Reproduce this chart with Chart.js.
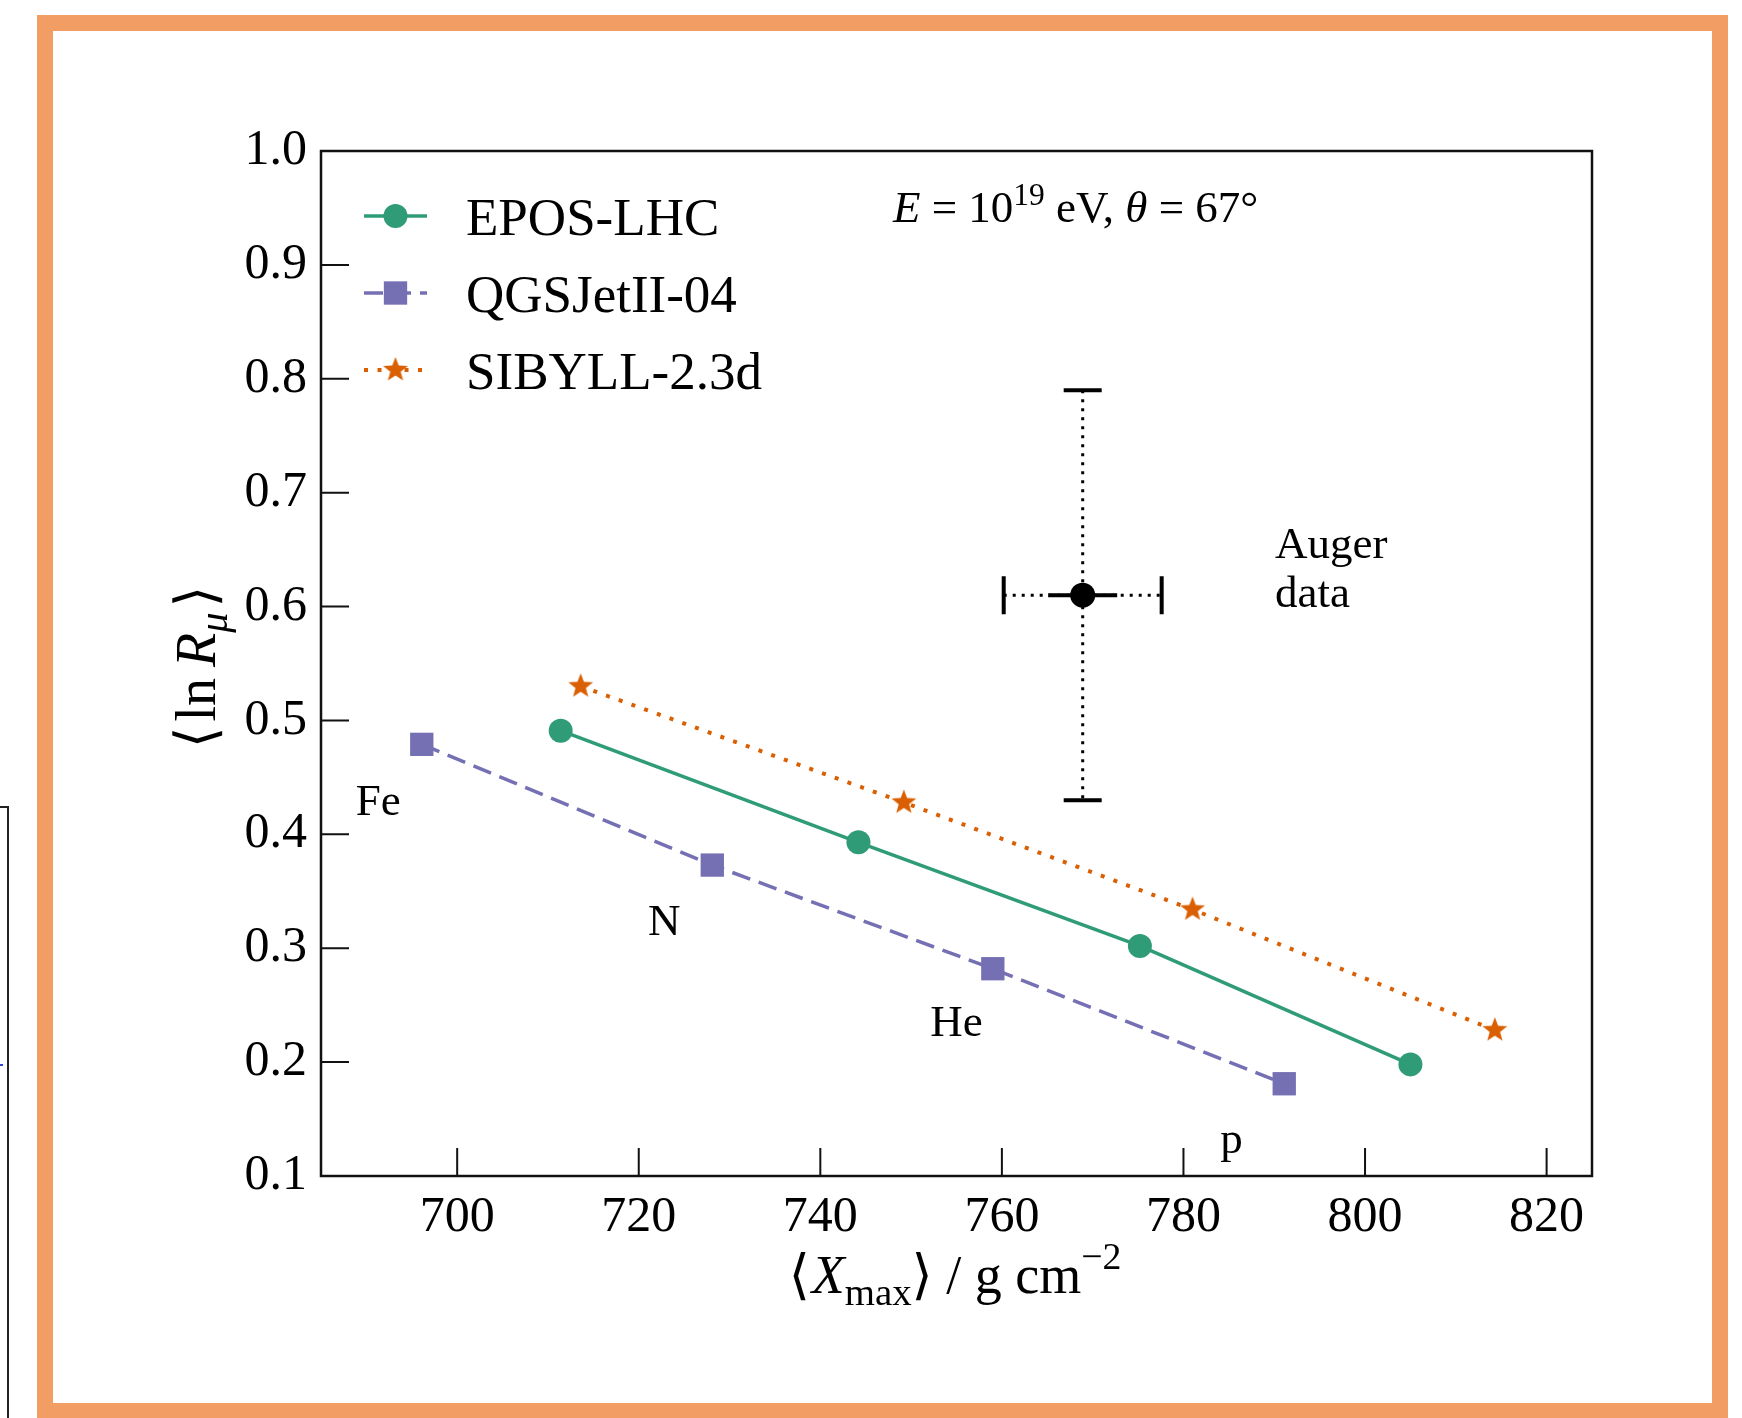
<!DOCTYPE html>
<html>
<head>
<meta charset="utf-8">
<script src="https://cdn.jsdelivr.net/npm/chart.js@4.4.1/dist/chart.umd.min.js"></script>
<style>
  html, body { margin: 0; padding: 0; background: #fff; }
  body { width: 1742px; height: 1418px; position: relative; overflow: hidden; }
  #frame { position: absolute; left: 37px; top: 15px; width: 1691px; height: 1404px; box-sizing: border-box; border: 16px solid #f29d64; }
  #edge { position: absolute; left: -10px; top: 806px; width: 19px; height: 700px; box-sizing: border-box; border: 2.5px solid #222; }
  #edge-mark { position: absolute; left: 0; top: 1064px; width: 3px; height: 2px; background: #3344dd; }
  #plot { position: absolute; left: 0; top: 0; }
</style>
</head>
<body>
<div id="edge"></div>
<div id="edge-mark"></div>
<div id="frame"></div>
<canvas id="plot" width="1742" height="1418"></canvas>
<script>
const FONT = '"Liberation Serif", "DejaVu Serif", serif';
const GREEN = '#2f9c77';
const PURPLE = '#7570b3';
const ORANGE = '#d95f02';

// <Xmax> [g/cm^2] and <ln R_mu> per model, primaries Fe, N, He, p
const xmaxEpos = [711.4, 744.2, 775.2, 805.0];
const lnRmuEpos = [0.491, 0.393, 0.302, 0.198];
const xmaxQgsjet = [696.1, 728.1, 759.0, 791.1];
const lnRmuQgsjet = [0.479, 0.373, 0.282, 0.181];
const xmaxSibyll = [713.6, 749.2, 781.0, 814.3];
const lnRmuSibyll = [0.530, 0.428, 0.334, 0.228];

// Auger point: stat (solid) and sys (dotted) uncertainties
const augerXmax = 768.9;
const augerLnRmu = 0.610;
const augerXmaxStat = 3.8;
const augerXmaxSys = 8.7;
const augerLnRmuSys = 0.18;

// primary labels, placed in data coordinates (x centre, baseline)
const primaries = ['Fe', 'N', 'He', 'p'];
const primaryX = [691.3, 722.8, 755.0, 785.3];
const primaryY = [0.417, 0.312, 0.223, 0.120];

const xTicks = [700, 720, 740, 760, 780, 800, 820];
const yTicks = [0.1, 0.2, 0.3, 0.4, 0.5, 0.6, 0.7, 0.8, 0.9, 1.0];

const toPoints = (xs, ys) => xs.map((x, i) => ({ x, y: ys[i] }));

function starImage(color, r) {
  const c = document.createElement('canvas');
  const s = Math.ceil(r * 2 + 2);
  c.width = c.height = s;
  const g = c.getContext('2d');
  g.fillStyle = color;
  g.beginPath();
  for (let i = 0; i < 10; i++) {
    const rad = i % 2 ? r * 0.42 : r;
    const a = -Math.PI / 2 + i * Math.PI / 5;
    g.lineTo(s / 2 + rad * Math.cos(a), s / 2 + rad * Math.sin(a));
  }
  g.closePath();
  g.fill();
  return c;
}

const star = starImage(ORANGE, 13);

// draws a run of text pieces: {t, it (italic), sc (size factor), dy (em shift)}
function richText(ctx, parts, x, y, size, align) {
  const fontOf = p => (p.it ? 'italic ' : '') + (size * (p.sc || 1)) + 'px ' + FONT;
  const widths = parts.map(p => { ctx.font = fontOf(p); return ctx.measureText(p.t).width + (p.gap || 0); });
  const total = widths.reduce((a, b) => a + b, 0);
  let cx = align === 'center' ? x - total / 2 : x;
  ctx.textAlign = 'left';
  ctx.textBaseline = 'alphabetic';
  parts.forEach((p, i) => {
    ctx.font = fontOf(p);
    ctx.fillText(p.t, cx, y + (p.dy || 0) * size);
    cx += widths[i];
  });
  return total;
}

const axesFrame = {
  id: 'axesFrame',
  afterDraw(chart) {
    const { ctx, chartArea: a, scales } = chart;
    ctx.save();
    ctx.strokeStyle = '#111';
    ctx.lineWidth = 2;
    ctx.beginPath();
    scales.x.ticks.forEach(t => {
      const px = scales.x.getPixelForValue(t.value);
      ctx.moveTo(px, a.bottom);
      ctx.lineTo(px, a.bottom - 28);
    });
    scales.y.ticks.forEach(t => {
      const py = scales.y.getPixelForValue(t.value);
      ctx.moveTo(a.left, py);
      ctx.lineTo(a.left + 28, py);
    });
    ctx.stroke();
    ctx.lineWidth = 2.5;
    ctx.strokeRect(a.left, a.top, a.right - a.left, a.bottom - a.top);
    ctx.restore();
  }
};

const augerPoint = {
  id: 'augerPoint',
  afterDatasetsDraw(chart) {
    const { ctx, scales: { x, y } } = chart;
    const cx = x.getPixelForValue(augerXmax);
    const cy = y.getPixelForValue(augerLnRmu);
    const left = x.getPixelForValue(augerXmax - augerXmaxSys);
    const right = x.getPixelForValue(augerXmax + augerXmaxSys);
    const top = y.getPixelForValue(augerLnRmu + augerLnRmuSys);
    const bottom = y.getPixelForValue(augerLnRmu - augerLnRmuSys);
    ctx.save();
    ctx.strokeStyle = '#000';
    ctx.fillStyle = '#000';
    ctx.lineWidth = 3;
    ctx.setLineDash([3, 6]);
    ctx.beginPath();
    ctx.moveTo(cx, top); ctx.lineTo(cx, bottom);
    ctx.moveTo(left, cy); ctx.lineTo(right, cy);
    ctx.stroke();
    ctx.setLineDash([]);
    ctx.lineWidth = 4;
    ctx.beginPath();
    ctx.moveTo(cx - 19, top); ctx.lineTo(cx + 19, top);
    ctx.moveTo(cx - 19, bottom); ctx.lineTo(cx + 19, bottom);
    ctx.moveTo(left, cy - 19); ctx.lineTo(left, cy + 19);
    ctx.moveTo(right, cy - 19); ctx.lineTo(right, cy + 19);
    ctx.moveTo(x.getPixelForValue(augerXmax - augerXmaxStat), cy);
    ctx.lineTo(x.getPixelForValue(augerXmax + augerXmaxStat), cy);
    ctx.stroke();
    ctx.beginPath();
    ctx.arc(cx, cy, 12.5, 0, Math.PI * 2);
    ctx.fill();
    ctx.restore();
  }
};

const annotations = {
  id: 'annotations',
  afterDraw(chart) {
    const { ctx, scales: { x, y } } = chart;
    ctx.save();
    ctx.fillStyle = '#000';

    // legend: line sample with marker, then label
    chart.data.datasets.forEach((ds, i) => {
      const ly = 216 + i * 77;
      ctx.strokeStyle = ds.borderColor;
      ctx.lineWidth = ds.borderWidth;
      ctx.setLineDash(ds.borderDash || []);
      ctx.beginPath();
      ctx.moveTo(364, ly);
      ctx.lineTo(427, ly);
      ctx.stroke();
      ctx.setLineDash([]);
      ctx.fillStyle = ds.backgroundColor;
      Chart.helpers.drawPoint(ctx, { pointStyle: ds.pointStyle, radius: ds.pointRadius, rotation: 0, borderWidth: 0 }, 395.5, ly);
      ctx.fillStyle = '#000';
      ctx.font = '53px ' + FONT;
      ctx.textAlign = 'left';
      ctx.textBaseline = 'alphabetic';
      ctx.fillText(ds.label, 466, ly + 19);
    });

    richText(ctx, [
      { t: 'E', it: true }, { t: ' = 10' }, { t: '19', sc: 0.7, dy: -0.38 },
      { t: ' eV, ' }, { t: 'θ', it: true }, { t: ' = 67°' }
    ], 893, 222, 45, 'left');

    ctx.font = '45px ' + FONT;
    ctx.textAlign = 'left';
    ctx.fillText('Auger', 1275, 558);
    ctx.fillText('data', 1275, 607);

    ctx.textAlign = 'center';
    primaries.forEach((name, i) => {
      ctx.fillText(name, x.getPixelForValue(primaryX[i]), y.getPixelForValue(primaryY[i]));
    });

    // axis titles
    richText(ctx, [
      { t: '⟨', gap: 2 }, { t: 'X', it: true }, { t: 'max', sc: 0.72, dy: 0.22 },
      { t: '⟩ / g cm' }, { t: '−2', sc: 0.7, dy: -0.45 }
    ], 955, 1293, 54, 'center');

    ctx.translate(198, 667);
    ctx.rotate(-Math.PI / 2);
    richText(ctx, [
      { t: '⟨', gap: 5 }, { t: 'ln', gap: 11 }, { t: 'R', it: true },
      { t: 'μ', it: true, sc: 0.72, dy: 0.22, gap: 5 }, { t: '⟩' }
    ], 0, 17, 56, 'center');
    ctx.restore();
  }
};

new Chart(document.getElementById('plot'), {
  type: 'scatter',
  data: {
    datasets: [
      {
        label: 'EPOS-LHC',
        data: toPoints(xmaxEpos, lnRmuEpos),
        showLine: true,
        borderColor: GREEN,
        backgroundColor: GREEN,
        borderWidth: 3.5,
        pointStyle: 'circle',
        pointRadius: 12,
        pointBorderWidth: 0
      },
      {
        label: 'QGSJetII-04',
        data: toPoints(xmaxQgsjet, lnRmuQgsjet),
        showLine: true,
        borderColor: PURPLE,
        backgroundColor: PURPLE,
        borderWidth: 3.5,
        borderDash: [19, 9],
        pointStyle: 'rect',
        pointRadius: 16.5,
        pointBorderWidth: 0
      },
      {
        label: 'SIBYLL-2.3d',
        data: toPoints(xmaxSibyll, lnRmuSibyll),
        showLine: true,
        borderColor: ORANGE,
        backgroundColor: ORANGE,
        borderWidth: 4,
        borderDash: [4, 9.5],
        pointStyle: star,
        pointRadius: 13,
        pointBorderWidth: 0
      }
    ]
  },
  options: {
    responsive: false,
    animation: false,
    devicePixelRatio: 1,
    events: [],
    layout: { padding: { top: 151, right: 150, left: 0, bottom: 0 } },
    plugins: { legend: { display: false }, tooltip: { enabled: false } },
    scales: {
      x: {
        type: 'linear',
        min: 685,
        max: 825,
        afterBuildTicks: s => { s.ticks = xTicks.map(v => ({ value: v })); },
        afterFit: s => { s.height = 242; },
        grid: { display: false, drawTicks: false },
        border: { display: false },
        ticks: { color: '#000', font: { family: FONT, size: 50 }, padding: 12, maxRotation: 0, autoSkip: false }
      },
      y: {
        type: 'linear',
        min: 0.1,
        max: 1.0,
        afterBuildTicks: s => { s.ticks = yTicks.map(v => ({ value: v })); },
        afterFit: s => { s.width = 321; },
        grid: { display: false, drawTicks: false },
        border: { display: false },
        ticks: { color: '#000', font: { family: FONT, size: 50 }, padding: 14, autoSkip: false, callback: v => v.toFixed(1) }
      }
    }
  },
  plugins: [axesFrame, augerPoint, annotations]
});
</script>
</body>
</html>
